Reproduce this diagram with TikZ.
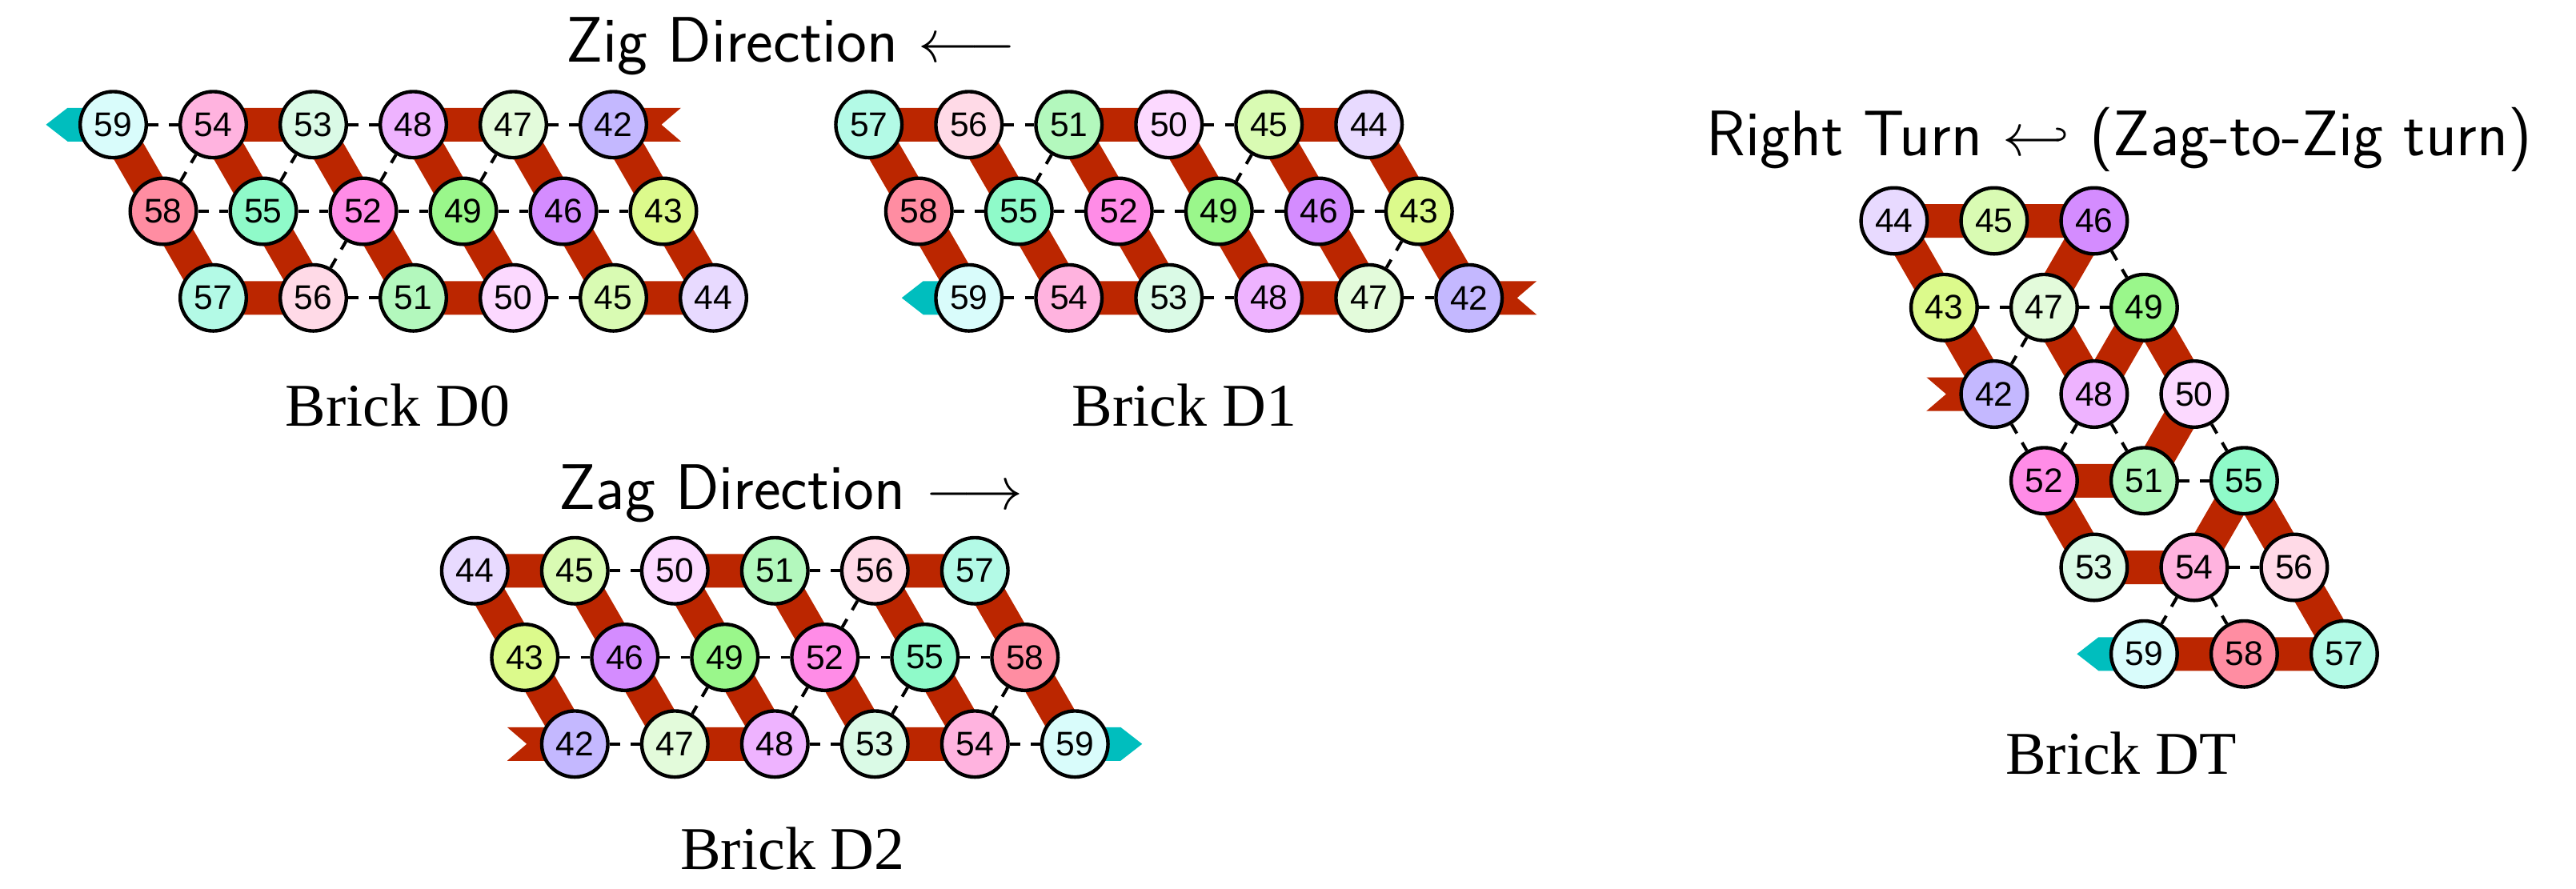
\documentclass[tikz,border=0pt]{standalone}
\usepackage{fontspec}
\setmainfont{Liberation Serif}
\newfontfamily\numfont{Liberation Sans}
\pgfdeclarelayer{bg}
\pgfsetlayers{bg,main}
\definecolor{bandc}{RGB}{187,38,0}
\definecolor{headc}{RGB}{0,190,190}
\definecolor{c42}{HTML}{C4B8FF}
\definecolor{c43}{HTML}{DCFA8C}
\definecolor{c44}{HTML}{E8DAFF}
\definecolor{c45}{HTML}{D9FBB3}
\definecolor{c46}{HTML}{D48CFF}
\definecolor{c47}{HTML}{E3FBDB}
\definecolor{c48}{HTML}{EEB3FF}
\definecolor{c49}{HTML}{9AF78B}
\definecolor{c50}{HTML}{FCD9FF}
\definecolor{c51}{HTML}{B3F8BD}
\definecolor{c52}{HTML}{FF8CE7}
\definecolor{c53}{HTML}{DAFAE6}
\definecolor{c54}{HTML}{FFB3DF}
\definecolor{c55}{HTML}{8FFAC9}
\definecolor{c56}{HTML}{FFDAE7}
\definecolor{c57}{HTML}{B3FAE6}
\definecolor{c58}{HTML}{FF8DA2}
\definecolor{c59}{HTML}{D9FCFB}
\tikzset{
  num/.style={circle, draw=black, line width=1pt, minimum size=0.661cm, inner sep=0pt, font=\numfont\fontsize{9.7}{10}\selectfont},
  band/.style={draw=bandc, line width=0.336cm, line join=round},
  hb/.style={draw=black, line width=0.9pt, dashed},
  title/.style={font=\sffamily\fontsize{18.3}{22}\selectfont, anchor=base, inner sep=0pt},
  caption/.style={font=\LARGE, anchor=base, inner sep=0pt},
  lattice/.style={x={(1cm,0cm)}, y={(0.5cm,-0.866cm)}}
}
\newcommand\Nd[4]{\node[num, fill=c#2] (#1#2) at (#3,#4) {#2};}
\newcommand\fishtail[2]{\fill[bandc, shift={(#1.center)}, xscale=#2] (0,0.168) -- (0.676,0.168) -- (0.48,0) -- (0.676,-0.168) -- (0,-0.168) -- cycle;}
\newcommand\cyanhead[2]{\fill[headc, shift={(#1.center)}, xscale=#2] (0,0.168) -- (0.456,0.168) -- (0.672,0) -- (0.456,-0.168) -- (0,-0.168) -- cycle;}
\begin{document}
\begin{tikzpicture}
\useasboundingbox (0,0) rectangle (25.752,-8.88);

% ---------- Brick D0 ----------
\begin{scope}[shift={(1.132,-1.246)}, lattice]
\Nd{a}{59}{0}{0} \Nd{a}{54}{1}{0} \Nd{a}{53}{2}{0} \Nd{a}{48}{3}{0} \Nd{a}{47}{4}{0} \Nd{a}{42}{5}{0}
\Nd{a}{58}{0}{1} \Nd{a}{55}{1}{1} \Nd{a}{52}{2}{1} \Nd{a}{49}{3}{1} \Nd{a}{46}{4}{1} \Nd{a}{43}{5}{1}
\Nd{a}{57}{0}{2} \Nd{a}{56}{1}{2} \Nd{a}{51}{2}{2} \Nd{a}{50}{3}{2} \Nd{a}{45}{4}{2} \Nd{a}{44}{5}{2}
\end{scope}

% ---------- Brick D1 ----------
\begin{scope}[shift={(8.686,-1.246)}, lattice]
\Nd{b}{57}{0}{0} \Nd{b}{56}{1}{0} \Nd{b}{51}{2}{0} \Nd{b}{50}{3}{0} \Nd{b}{45}{4}{0} \Nd{b}{44}{5}{0}
\Nd{b}{58}{0}{1} \Nd{b}{55}{1}{1} \Nd{b}{52}{2}{1} \Nd{b}{49}{3}{1} \Nd{b}{46}{4}{1} \Nd{b}{43}{5}{1}
\Nd{b}{59}{0}{2} \Nd{b}{54}{1}{2} \Nd{b}{53}{2}{2} \Nd{b}{48}{3}{2} \Nd{b}{47}{4}{2} \Nd{b}{42}{5}{2}
\end{scope}

% ---------- Brick D2 ----------
\begin{scope}[shift={(4.746,-5.706)}, lattice]
\Nd{c}{44}{0}{0} \Nd{c}{45}{1}{0} \Nd{c}{50}{2}{0} \Nd{c}{51}{3}{0} \Nd{c}{56}{4}{0} \Nd{c}{57}{5}{0}
\Nd{c}{43}{0}{1} \Nd{c}{46}{1}{1} \Nd{c}{49}{2}{1} \Nd{c}{52}{3}{1} \Nd{c}{55}{4}{1} \Nd{c}{58}{5}{1}
\Nd{c}{42}{0}{2} \Nd{c}{47}{1}{2} \Nd{c}{48}{2}{2} \Nd{c}{53}{3}{2} \Nd{c}{54}{4}{2} \Nd{c}{59}{5}{2}
\end{scope}

% ---------- Brick DT ----------
\begin{scope}[shift={(18.935,-2.208)}, lattice]
\Nd{t}{44}{0}{0} \Nd{t}{45}{1}{0} \Nd{t}{46}{2}{0}
\Nd{t}{43}{0}{1} \Nd{t}{47}{1}{1} \Nd{t}{49}{2}{1}
\Nd{t}{42}{0}{2} \Nd{t}{48}{1}{2} \Nd{t}{50}{2}{2}
\Nd{t}{52}{0}{3} \Nd{t}{51}{1}{3} \Nd{t}{55}{2}{3}
\Nd{t}{53}{0}{4} \Nd{t}{54}{1}{4} \Nd{t}{56}{2}{4}
\Nd{t}{59}{0}{5} \Nd{t}{58}{1}{5} \Nd{t}{57}{2}{5}
\end{scope}

\begin{pgfonlayer}{bg}
% bands
\draw[band] (a42.center) \foreach \k in {43,...,59}{ -- (a\k.center)};
\draw[band] (b42.center) \foreach \k in {43,...,59}{ -- (b\k.center)};
\draw[band] (c42.center) \foreach \k in {43,...,59}{ -- (c\k.center)};
\draw[band] (t42.center) \foreach \k in {43,...,59}{ -- (t\k.center)};
\fishtail{a42}{1}  \cyanhead{a59}{-1}
\fishtail{b42}{1}  \cyanhead{b59}{-1}
\fishtail{c42}{-1} \cyanhead{c59}{1}
\fishtail{t42}{-1} \cyanhead{t59}{-1}
% dashed bonds
\foreach \u/\v in {59/54,53/48,47/42,58/55,55/52,52/49,49/46,46/43,56/51,50/45,58/54,55/53,52/48,49/47,56/52}
  \draw[hb] (a\u) -- (a\v);
\foreach \u/\v in {56/51,50/45,58/55,55/52,52/49,49/46,46/43,59/54,53/48,47/42,51/55,45/49,43/47}
  \draw[hb] (b\u) -- (b\v);
\foreach \u/\v in {45/50,51/56,43/46,46/49,49/52,52/55,55/58,42/47,48/53,54/59,56/52,49/47,52/48,55/53,58/54}
  \draw[hb] (c\u) -- (c\v);
\foreach \u/\v in {43/47,47/49,46/49,47/42,42/52,48/52,48/51,50/55,51/55,54/56,54/59,54/58}
  \draw[hb] (t\u) -- (t\v);
\end{pgfonlayer}

% texts
\node[title] (tzig) at (7.908,-0.616) {Zig Direction $\longleftarrow$};
\node[title] (tzag) at (7.91,-5.094) {Zag Direction $\longrightarrow$};
\node[title] (tturn) at (21.187,-1.557) {Right Turn $\hookleftarrow$ (Zag-to-Zig turn)};
\node[caption] (l0) at (3.976,-4.256) {Brick D0};
\node[caption] (l1) at (11.84,-4.256) {Brick D1};
\node[caption] (l2) at (7.924,-8.694) {Brick D2};
\node[caption] (lt) at (21.204,-7.736) {Brick DT};
\end{tikzpicture}
\end{document}
